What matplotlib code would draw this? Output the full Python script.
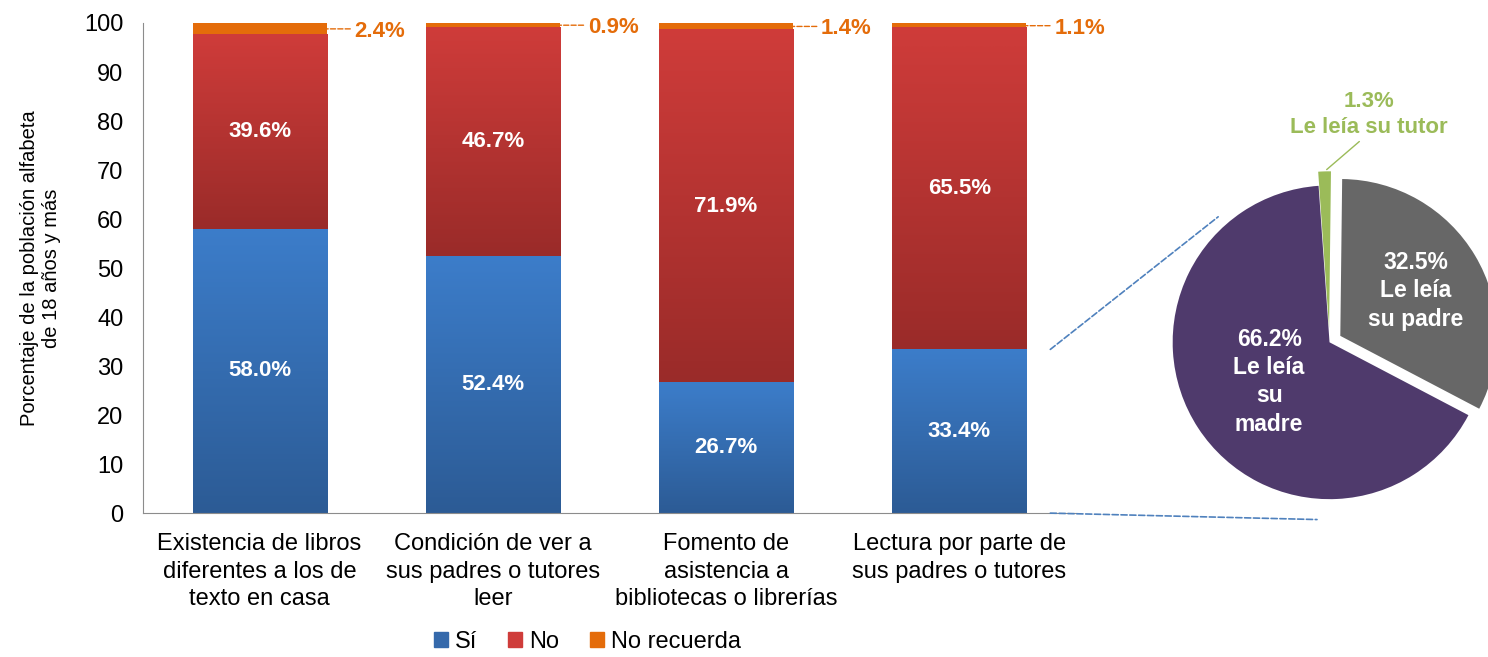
import matplotlib.pyplot as plt
import numpy as np
from matplotlib.colors import LinearSegmentedColormap
from matplotlib.patches import Patch, ConnectionPatch

plt.rcParams['font.family'] = ['Liberation Sans', 'DejaVu Sans']

categories = [
    "Existencia de libros\ndiferentes a los de\ntexto en casa",
    "Condición de ver a\nsus padres o tutores\nleer",
    "Fomento de\nasistencia a\nbibliotecas o librerías",
    "Lectura por parte de\nsus padres o tutores",
]
si = [58.0, 52.4, 26.7, 33.4]
no = [39.6, 46.7, 71.9, 65.5]
no_recuerda = [2.4, 0.9, 1.4, 1.1]

pie_labels = ["Le leía\nsu\nmadre", "Le leía\nsu padre", "Le leía su tutor"]
pie_values = [66.2, 32.5, 1.3]

blue = ("#2c5b95", "#3c7dca")
red = ("#9a2b29", "#cf3c3a")
orange = "#e46c0a"
purple = "#4f3a6c"
gray = "#676767"
green = "#9bbb59"

fig = plt.figure(figsize=(14.88, 6.57), dpi=100)
ax = fig.add_axes([0.0961, 0.219, 0.627, 0.746])

x = np.arange(len(categories))
width = 0.575
si_arr = np.array(si)
no_arr = np.array(no)
nr_arr = np.array(no_recuerda)

b1 = ax.bar(x, si_arr, width, color=blue[1], label="Sí")
b2 = ax.bar(x, no_arr, width, bottom=si_arr, color=red[1], label="No")
b3 = ax.bar(x, nr_arr, width, bottom=si_arr + no_arr, color=orange, label="No recuerda")


def shade(bars, cols):
    cmap = LinearSegmentedColormap.from_list("g", list(cols))
    grad = np.linspace(0, 1, 256).reshape(-1, 1)
    for r in bars:
        x0, y0 = r.get_x(), r.get_y()
        ax.imshow(grad, cmap=cmap, origin="lower", aspect="auto",
                  extent=(x0, x0 + r.get_width(), y0, y0 + r.get_height()),
                  interpolation="bicubic", zorder=2.1)


shade(b1, blue)
shade(b2, red)

for i in range(len(categories)):
    ax.text(x[i], si[i] / 2, f"{si[i]:.1f}%", ha="center", va="center",
            color="white", fontsize=16, fontweight="bold", zorder=5)
    ax.text(x[i], si[i] + no[i] / 2, f"{no[i]:.1f}%", ha="center", va="center",
            color="white", fontsize=16, fontweight="bold", zorder=5)
    ytop = si[i] + no[i] + no_recuerda[i] / 2
    # dashed leader, then the label
    ax.annotate("", xy=(x[i] + width / 2, ytop), xytext=(17, 0),
                textcoords="offset points",
                arrowprops=dict(arrowstyle="-", color=orange, linestyle="--", lw=1,
                                shrinkA=0, shrinkB=0))
    ax.annotate(f"{no_recuerda[i]:.1f}%", xy=(x[i] + width / 2, ytop),
                xytext=(20, 0), textcoords="offset points", ha="left",
                va="center_baseline", color=orange, fontsize=16, fontweight="bold")

ax.set_xlim(-0.5, 3.5)
ax.set_ylim(0, 100)
ax.set_yticks(range(0, 101, 10))
ax.set_xticks(x)
ax.set_xticklabels(categories, fontsize=17, linespacing=1.35)
ax.tick_params(axis="y", labelsize=17, length=0, pad=14)
ax.tick_params(axis="x", length=0, pad=14)
ax.spines["top"].set_visible(False)
ax.spines["right"].set_visible(False)
ax.spines["left"].set_color("#8c8c8c")
ax.spines["bottom"].set_color("#8c8c8c")
ax.set_ylabel("Porcentaje de la población alfabeta\nde 18 años y más", fontsize=14.5,
              labelpad=17, linespacing=1.15)

handles = [Patch(color="#3569ab"), Patch(color=red[1]), Patch(color=orange)]
fig.legend(handles, ["Sí", "No", "No recuerda"], loc="lower center",
           bbox_to_anchor=(0.395, -0.026), ncol=3, frameon=False, fontsize=17,
           handlelength=0.6, handleheight=0.6, handletextpad=0.3, columnspacing=1.3)

# pie
pax = fig.add_axes([0.767, 0.192, 0.253, 0.574])
wedges, _ = pax.pie(pie_values, colors=[purple, gray, green], startangle=94,
                    counterclock=True, explode=[0, 0.08, 0.09], radius=1)
pax.set_xlim(-1.2, 1.2)
pax.set_ylim(-1.2, 1.2)
pax.set_aspect("equal")

for w, val, lab, r in zip(wedges[:2], pie_values[:2], pie_labels[:2], [0.46, 0.56]):
    ang = np.deg2rad((w.theta1 + w.theta2) / 2)
    cx, cy = w.center
    pax.text(cx + r * np.cos(ang), cy + r * np.sin(ang), f"{val:.1f}%\n{lab}",
             ha="center", va="center", color="white", fontsize=16.5,
             fontweight="bold", linespacing=1.3)

gw = wedges[2]
ang = np.deg2rad((gw.theta1 + gw.theta2) / 2)
gx = gw.center[0] + 1.0 * np.cos(ang)
gy = gw.center[1] + 1.0 * np.sin(ang)
pax.text(0.25, 1.45, f"{pie_values[2]:.1f}%\n{pie_labels[2]}", ha="center", va="center",
         color=green, fontsize=16, fontweight="bold", linespacing=1.3)
pax.annotate("", xy=(gx, gy), xytext=(0.19, 1.28), annotation_clip=False,
             arrowprops=dict(arrowstyle="-", color=green, lw=1, shrinkA=0, shrinkB=2))

# connectors from the last bar to the pie
for yv, px, py in [(si[3], -0.71, 0.80), (0, -0.08, -1.13)]:
    con = ConnectionPatch(xyA=(x[3] + 0.39, yv), coordsA=ax.transData,
                          xyB=(px, py), coordsB=pax.transData,
                          color="#4f81bd", linestyle="--", lw=1.2)
    fig.add_artist(con)

fig.savefig("out.png", dpi=100)
